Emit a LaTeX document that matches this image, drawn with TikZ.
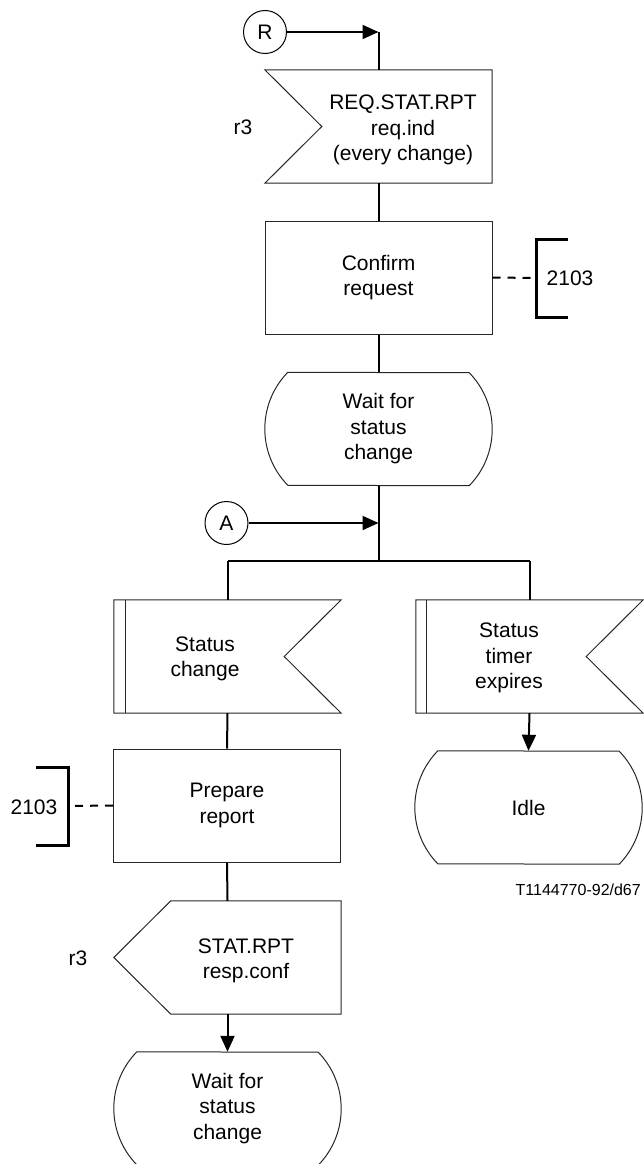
\documentclass[tikz,border=0pt]{standalone}
\usepackage{fontspec}
\setmainfont{Liberation Sans}
\usetikzlibrary{arrows.meta,calc}
\newcommand\waitshape[1]{\draw[outl] ([xshift=23pt]#1.north west) arc[start angle=135.7,end angle=224.3,radius=80.9pt] -- ([xshift=-23pt]#1.south east) arc[start angle=-44.3,end angle=44.3,radius=80.9pt] -- cycle;}
\begin{document}
\begin{tikzpicture}[x=1pt,y=1pt,
  outl/.style={draw=black!85, line width=1pt, line join=miter},
  conn/.style={draw=black, line width=2pt},
  arr/.style={conn, -{Triangle[length=16pt,width=14pt]}},
  dsh/.style={draw=black, line width=2pt, dash pattern=on 8pt off 7pt},
  brk/.style={draw=black, line width=3pt, line join=miter},
  box/.style={rectangle, minimum width=227pt, minimum height=113pt, inner sep=0pt, font=\fontsize{21}{25.5}\selectfont, align=center},
  lbl/.style={font=\fontsize{21}{25.5}\selectfont, align=center, inner sep=0pt},
  conncirc/.style={circle, draw=black, line width=1pt, minimum size=43pt, inner sep=0pt, font=\fontsize{21}{25}\selectfont},
]
\useasboundingbox (0,0) rectangle (643,-1164);

% top connector R
\node[conncirc] (R) at (265,-32) {R};
\coordinate (j0) at (378.5,-32);

% input signal REQ.STAT.RPT
\node[box] (sig1) at (378.5,-126.5) {};
\draw[outl] (sig1.north west) -- (sig1.north east) -- (sig1.south east) -- (sig1.south west) -- ([xshift=57pt]sig1.west) -- cycle;
\node[lbl] (sig1t) at (403,-130) {REQ.STAT.RPT\\req.ind\\(every change)};
\node[lbl] (r3a) at (243,-127) {r3};

% confirm request
\node[box, outl] (conf) at (378.5,-277.5) {Confirm\\request};
\coordinate (b1) at (536,-278);
\node[lbl] (n2103a) at (570,-278) {2103};

% wait state 1
\node[box] (w1) at (378.5,-429) {Wait for\\status\\change};
\waitshape{w1}

% connector A and branch
\node[conncirc] (A) at (226.5,-523) {A};
\coordinate (jA) at (378.5,-523);
\coordinate (br) at (378.5,-561);
\coordinate (brL) at (227.5,-561);
\coordinate (brR) at (529.5,-561);

% left internal input signal
\node[box] (sigL) at (227.5,-656.5) {};
\draw[outl] (sigL.north west) -- (sigL.north east) -- ([xshift=-57pt]sigL.east) -- (sigL.south east) -- (sigL.south west) -- cycle;
\draw[outl] ([xshift=12pt]sigL.north west) -- ([xshift=12pt]sigL.south west);
\node[lbl] (sigLt) at (205,-659) {Status\\change};

% right internal input signal
\node[box] (sigR) at (529.5,-656.5) {};
\draw[outl] (sigR.north west) -- (sigR.north east) -- ([xshift=-57pt]sigR.east) -- (sigR.south east) -- (sigR.south west) -- cycle;
\draw[outl] ([xshift=11pt]sigR.north west) -- ([xshift=11pt]sigR.south west);
\node[lbl] (sigRt) at (509,-658) {Status\\timer\\expires};

% prepare report
\node[box, outl] (prep) at (227,-805.5) {Prepare\\report};
\coordinate (b2) at (68,-806);
\node[lbl] (n2103b) at (34,-807) {2103};

% idle
\node[box] (idle) at (528.5,-807.5) {Idle};
\waitshape{idle}

\node[anchor=east, inner sep=0pt, font=\fontsize{16}{19}\selectfont] (tag) at (641,-890) {T1144770-92/d67};

% output signal
\node[box] (out) at (227.5,-957.5) {};
\draw[outl] (out.west) -- ([xshift=57pt]out.north west) -- (out.north east) -- (out.south east) -- ([xshift=57pt]out.south west) -- cycle;
\node[lbl] (outt) at (246,-961) {STAT.RPT\\resp.conf};
\node[lbl] (r3b) at (78,-958) {r3};

% wait state 2
\node[box] (w2) at (227.5,-1108.5) {Wait for\\status\\change};
\waitshape{w2}

% connectors
\draw[arr] (R.east) -- (j0);
\draw[conn] (j0) -- (sig1.north);
\draw[conn] (sig1.south) -- (conf.north);
\draw[conn] (conf.south) -- (w1.north);
\draw[conn] (w1.south) -- (br);
\draw[arr] (A.east) -- (jA);
\draw[conn] (brL) -- (brR);
\draw[conn] (brL) -- (sigL.north);
\draw[conn] (brR) -- (sigR.north);
\draw[conn] (sigL.south) -- (prep.north);
\draw[arr] (sigR.south) -- (idle.north);
\draw[conn] (prep.south) -- (out.north);
\draw[arr] (out.south) -- (w2.north);

% comment brackets
\draw[dsh] (conf.east) -- (b1);
\draw[brk] ($(b1)+(32,39)$) -- ($(b1)+(0,39)$) -- ($(b1)+(0,-39)$) -- ($(b1)+(32,-39)$);
\draw[dsh] (prep.west) -- (b2);
\draw[brk] ($(b2)+(-32,39)$) -- ($(b2)+(0,39)$) -- ($(b2)+(0,-39)$) -- ($(b2)+(-32,-39)$);
\end{tikzpicture}
\end{document}
